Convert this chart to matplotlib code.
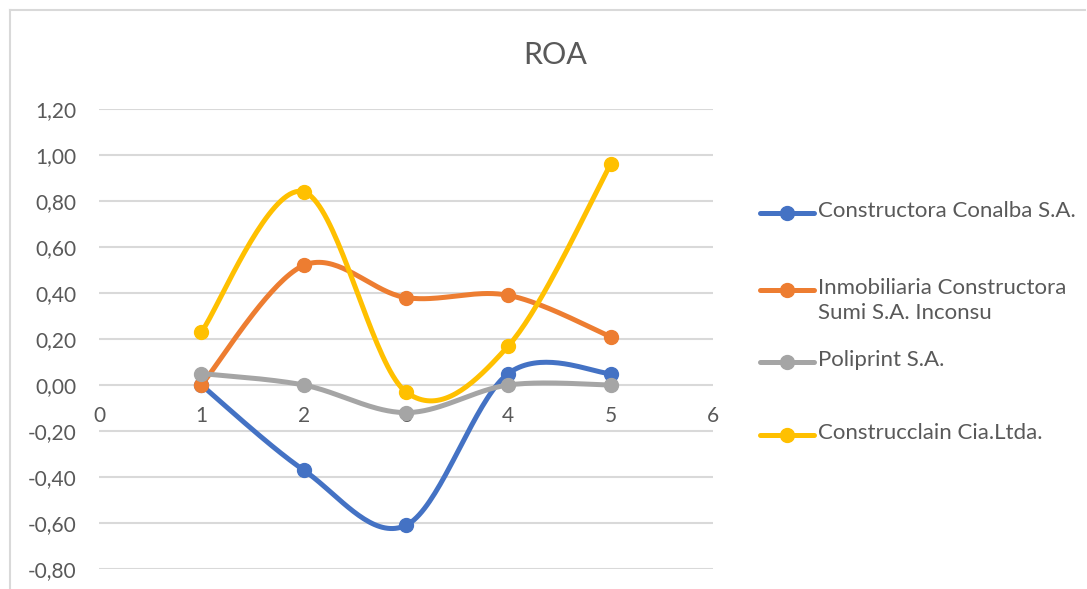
import numpy as np
import matplotlib.pyplot as plt
from matplotlib.lines import Line2D

plt.rcParams['font.family'] = ['Lato', 'DejaVu Sans']

# ROA por empresa y periodo
periods = [1, 2, 3, 4, 5]
conalba = [0.00, -0.37, -0.61, 0.05, 0.05]
sumi = [0.00, 0.52, 0.38, 0.39, 0.21]
poliprint = [0.05, 0.00, -0.12, 0.00, 0.00]
construcclain = [0.23, 0.84, -0.03, 0.17, 0.96]

names = ["Constructora Conalba S.A.",
         "Inmobiliaria Constructora\nSumi S.A. Inconsu",
         "Poliprint S.A.",
         "Construcclain Cia.Ltda."]
colors = ["#4472C4", "#ED7D31", "#A5A5A5", "#FFC000"]
series = [conalba, sumi, poliprint, construcclain]

yticks = np.arange(-0.8, 1.21, 0.2)
xticks = [0, 1, 2, 3, 4, 5, 6]
txt = "#595959"


def smooth(x, y, n=40):
    # cubic bezier through the points, catmull-rom style control points
    p = np.column_stack([x, y]).astype(float)
    pts = np.vstack([p[0], p, p[-1]])
    out = []
    for i in range(1, len(pts) - 2):
        p0, p1, p2, p3 = pts[i - 1], pts[i], pts[i + 1], pts[i + 2]
        c1 = p1 + (p2 - p0) / 6
        c2 = p2 - (p3 - p1) / 6
        t = np.linspace(0, 1, n)[:, None]
        seg = ((1 - t) ** 3) * p1 + 3 * ((1 - t) ** 2) * t * c1 + 3 * (1 - t) * t ** 2 * c2 + t ** 3 * p2
        out.append(seg if i == 1 else seg[1:])
    out = np.vstack(out)
    return out[:, 0], out[:, 1]


fig = plt.figure(figsize=(10.87, 5.89), dpi=100)
ax = fig.add_axes([99 / 1087, 1 - 569 / 589, (713 - 99) / 1087, (569 - 109) / 589])

for vals, c in zip(series, colors):
    sx, sy = smooth(periods, vals)
    ax.plot(sx, sy, color=c, lw=3.6, solid_capstyle='round', zorder=3)
    ax.plot(periods, vals, 'o', color=c, ms=10, zorder=4)

ax.set_xlim(0, 6)
ax.set_ylim(-0.8, 1.2)
ax.set_yticks(yticks)
ax.set_yticklabels([f"{v:.2f}".replace('.', ',').replace('-0,00', '0,00') for v in yticks])
ax.set_xticks(xticks)
ax.set_xticklabels([str(v) for v in xticks])
ax.grid(axis='y', color='#d9d9d9', lw=1.5)
ax.set_axisbelow(True)
for s in ax.spines.values():
    s.set_visible(False)
ax.spines['bottom'].set_position(('data', 0))
ax.tick_params(axis='x', length=0, pad=15, labelsize=15, labelcolor=txt)
ax.tick_params(axis='y', length=0, pad=16, labelsize=15, labelcolor=txt)

fig.text(555 / 1087, 1 - 55 / 589, "ROA", ha='center', va='center', fontsize=22, color=txt)

# leyenda a la derecha
leg_y = [213, 290, 362, 435]
for name, c, yy in zip(names, colors, leg_y):
    yf = 1 - yy / 589
    fig.add_artist(Line2D([760 / 1087, 814 / 1087], [yf, yf], color=c, lw=3.6,
                          solid_capstyle='round', transform=fig.transFigure))
    fig.add_artist(Line2D([787 / 1087], [yf], marker='o', ms=10, color=c,
                          transform=fig.transFigure))
    fig.text(818 / 1087, yf + 12 / 589, name, ha='left', va='top', fontsize=16,
             color=txt, linespacing=1.3)

# marco del grafico
fig.add_artist(Line2D([10 / 1087, 10 / 1087], [0, 1 - 10 / 589], color='#d9d9d9', lw=1.5,
                      transform=fig.transFigure))
fig.add_artist(Line2D([10 / 1087, 1085 / 1087], [1 - 10 / 589, 1 - 10 / 589], color='#d9d9d9',
                      lw=1.5, transform=fig.transFigure))

fig.savefig("out.png", dpi=100)
